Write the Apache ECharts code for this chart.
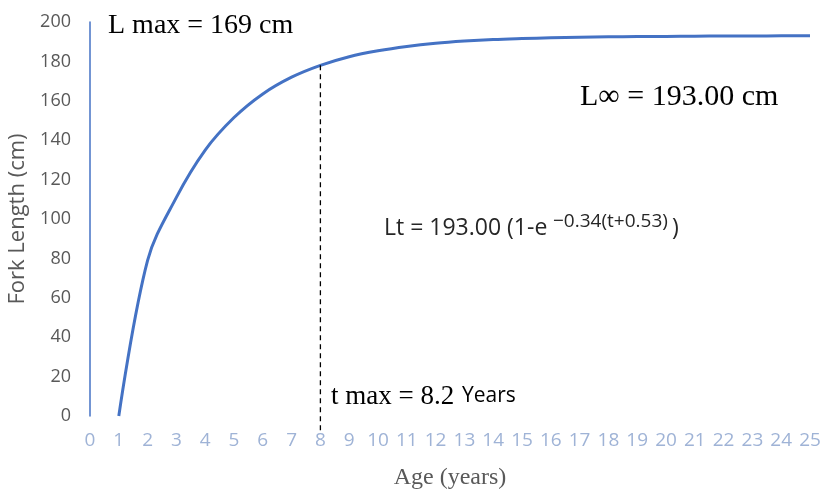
<!DOCTYPE html>
<html><head><meta charset="utf-8">
<script src="https://cdn.jsdelivr.net/npm/echarts@6/dist/echarts.min.js"></script>
<style>html,body{margin:0;padding:0;background:#fff}#c{width:822px;height:492px}</style>
</head><body><div id="c"></div>
<script>
const ages = [1,2,3,4,5,6,7,8,9,10,11,12,13,14,15,16,17,18,19,20,21,22,23,24,25];
const forkLength = [0,79,111,135,151.5,163.5,172,178,182.4,185.4,187.6,189.2,190.3,191.1,191.6,192,192.3,192.5,192.6,192.7,192.8,192.9,192.9,193,193];
const xTicks = {min:0, max:25, interval:1};
const yTicks = {min:0, max:200, interval:20};
const tMaxLine = [[8,178],[8,-8]];

const chart = echarts.init(document.getElementById('c'));
chart.setOption({
  animation:false,
  grid:{left:90,right:12,top:22,bottom:76,containLabel:false,outerBoundsMode:'none'},
  xAxis:{type:'value',min:xTicks.min,max:xTicks.max,interval:xTicks.interval,
    axisLine:{show:false},axisTick:{show:false},splitLine:{show:false},
    axisLabel:{color:'#9fb3d6',fontFamily:'Open Sans',fontSize:19,margin:15},
    name:'Age (years)',nameLocation:'middle',nameGap:50,
    nameTextStyle:{color:'#595959',fontFamily:'Liberation Serif',fontSize:24}},
  yAxis:{type:'value',min:yTicks.min,max:yTicks.max,interval:yTicks.interval,
    axisLine:{show:true,lineStyle:{color:'#4472C4',width:1.5}},axisTick:{show:false},splitLine:{show:false},
    axisLabel:{color:'#595959',fontFamily:'Open Sans',fontSize:18,margin:19},
    name:'Fork Length (cm)',nameLocation:'middle',nameGap:52,
    nameTextStyle:{color:'#595959',fontFamily:'Open Sans',fontSize:22}},
  series:[
    {type:'line',data:ages.map((a,i)=>[a,forkLength[i]]),smooth:0.35,showSymbol:false,
     lineStyle:{color:'#4472C4',width:3}},
    {type:'line',data:tMaxLine,showSymbol:false,clip:false,
     lineStyle:{color:'#000',width:1.3,type:[5,4]}}
  ],
  graphic:[
    {type:'text',left:108,top:12,style:{text:'L max = 169 cm',font:'28px "Liberation Serif"',fill:'#000'}},
    {type:'text',left:580,top:82,style:{text:'L∞ = 193.00 cm',font:'30px "Liberation Serif"',fill:'#000'}},
    {type:'text',left:384,top:217,style:{text:'Lt = 193.00 (1-e',font:'23px "Open Sans"',fill:'#262626'}},
    {type:'text',left:553,top:212,style:{text:'−0.34(t+0.53)',font:'19px "Open Sans"',fill:'#262626'}},
    {type:'text',left:672,top:217,style:{text:')',font:'23px "Open Sans"',fill:'#262626'}},
    {type:'text',left:331,top:383,style:{text:'t max = 8.2',font:'27px "Liberation Serif"',fill:'#000'}},
    {type:'text',left:462,top:386,style:{text:'Years',font:'21px "Open Sans"',fill:'#000'}}
  ]
});
</script></body></html>
